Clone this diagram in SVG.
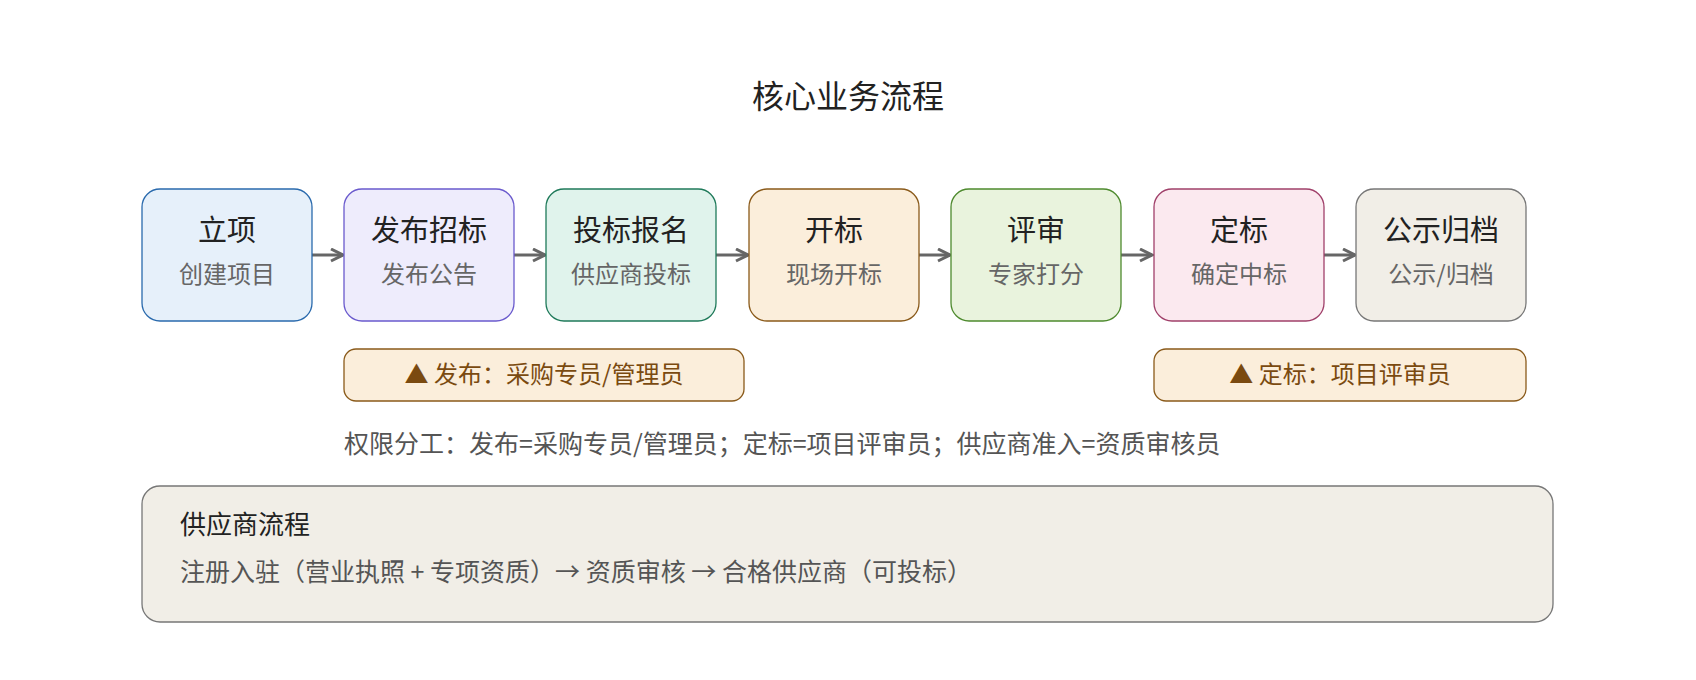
<svg xmlns="http://www.w3.org/2000/svg" width="1696" height="680" viewBox="0 0 1696 680">
<style>
text{font-family:"Noto Sans CJK SC","Noto Sans",sans-serif;text-anchor:middle}
.t{font-size:29px;fill:#222}
.s{font-size:24px;fill:#666}
.r{font-size:24px;fill:#7a4a10}
.n rect{stroke-width:1.3}
</style>
<defs><marker id="a" viewBox="0 0 10 10" refX="9" refY="5" markerWidth="5" markerHeight="5" orient="auto"><path d="M1 1L9 5L1 9" fill="none" stroke="#666" stroke-width="2"/></marker></defs>
<rect width="1696" height="680" fill="#fff"/>
<text x="848" y="108" style="font-size:32px;fill:#222">核心业务流程</text>
<g id="connectors" stroke="#666" stroke-width="3" marker-end="url(#a)">
<line x1="312" y1="255" x2="343" y2="255"/><line x1="514" y1="255" x2="545" y2="255"/><line x1="716" y1="255" x2="748" y2="255"/><line x1="919" y1="255" x2="950" y2="255"/><line x1="1121" y1="255" x2="1152" y2="255"/><line x1="1324" y1="255" x2="1355" y2="255"/>
</g>
<g id="n1" class="n"><rect x="142" y="189" width="170" height="132" rx="18" fill="#e6f0fa" stroke="#2a6aad"/><text class="t" x="227" y="241">立项</text><text class="s" x="227" y="283">创建项目</text></g>
<g id="n2" class="n"><rect x="344" y="189" width="170" height="132" rx="18" fill="#eeecfc" stroke="#6a5acd"/><text class="t" x="429" y="241">发布招标</text><text class="s" x="429" y="283">发布公告</text></g>
<g id="n3" class="n"><rect x="546" y="189" width="170" height="132" rx="18" fill="#e0f3ec" stroke="#1f7a5a"/><text class="t" x="631" y="241">投标报名</text><text class="s" x="631" y="283">供应商投标</text></g>
<g id="n4" class="n"><rect x="749" y="189" width="170" height="132" rx="18" fill="#fbeedb" stroke="#8a5a1a"/><text class="t" x="834" y="241">开标</text><text class="s" x="834" y="283">现场开标</text></g>
<g id="n5" class="n"><rect x="951" y="189" width="170" height="132" rx="18" fill="#e9f3dd" stroke="#4e8a2e"/><text class="t" x="1036" y="241">评审</text><text class="s" x="1036" y="283">专家打分</text></g>
<g id="n6" class="n"><rect x="1154" y="189" width="170" height="132" rx="18" fill="#fbe9ef" stroke="#a0406a"/><text class="t" x="1239" y="241">定标</text><text class="s" x="1239" y="283">确定中标</text></g>
<g id="n7" class="n"><rect x="1356" y="189" width="170" height="132" rx="18" fill="#f1eee7" stroke="#777"/><text class="t" x="1441" y="241">公示归档</text><text class="s" x="1441" y="283">公示/归档</text></g>
<g id="role1"><rect x="344" y="349" width="400" height="52" rx="12" fill="#fbeedb" stroke="#8a5a1a" stroke-width="1.3"/><text class="r" x="544" y="383">▲ 发布：采购专员/管理员</text></g>
<g id="role2"><rect x="1154" y="349" width="372" height="52" rx="12" fill="#fbeedb" stroke="#8a5a1a" stroke-width="1.3"/><text class="r" x="1340" y="383">▲ 定标：项目评审员</text></g>
<text x="344" y="453" style="font-size:25px;fill:#555;text-anchor:start">权限分工：发布=采购专员/管理员；定标=项目评审员；供应商准入=资质审核员</text>
<g id="supplier"><rect x="142" y="486" width="1411" height="136" rx="18" fill="#f1eee7" stroke="#777" stroke-width="1.3"/>
<text x="180" y="534" style="font-size:26px;fill:#222;text-anchor:start">供应商流程</text>
<text x="180" y="581" style="font-size:25px;fill:#555;text-anchor:start">注册入驻（营业执照 + 专项资质）→ 资质审核 → 合格供应商（可投标）</text></g>
</svg>
